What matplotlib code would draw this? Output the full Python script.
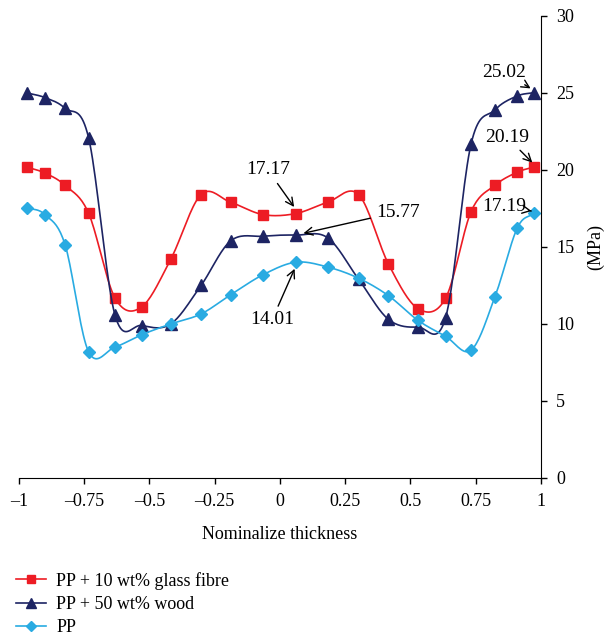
import numpy as np
import matplotlib
matplotlib.use("Agg")
import matplotlib.pyplot as plt

# data
x_pos = [-0.968, -0.9, -0.823, -0.733, -0.632, -0.53, -0.418, -0.302, -0.188, -0.064,
         0.061, 0.183, 0.302, 0.416, 0.529, 0.635, 0.733, 0.824, 0.909, 0.973]
glass = [20.18, 19.8, 19.0, 17.2, 11.7, 11.1, 14.2, 18.4, 17.9, 17.1,
         17.17, 17.9, 18.4, 13.9, 11.0, 11.67, 17.3, 19.0, 19.85, 20.19]
wood = [25.0, 24.7, 24.0, 22.1, 10.6, 9.9, 10.0, 12.5, 15.4, 15.7,
        15.77, 15.6, 12.9, 10.3, 9.8, 10.4, 21.7, 23.9, 24.8, 25.02]
pp = [17.55, 17.1, 15.15, 8.2, 8.5, 9.3, 10.0, 10.65, 11.9, 13.2,
      14.01, 13.7, 12.97, 11.84, 10.24, 9.2, 8.3, 11.75, 16.2, 17.19]
labels = ['PP + 10 wt% glass fibre', 'PP + 50 wt% wood', 'PP']
colors = ['#ED1C24', '#1D2463', '#29ABE2']
markers = ['s', '^', 'D']
msizes = [7.5, 8.5, 6.5]

xticks = [-1, -0.75, -0.5, -0.25, 0, 0.25, 0.5, 0.75, 1]
xticklabels = ['\u20131', '\u20130.75', '\u20130.5', '\u20130.25', '0', '0.25', '0.5', '0.75', '1']


def smooth(x, y, n=20):
    # catmull-rom curve through the points (like excel smoothed lines)
    x = np.asarray(x, float)
    y = np.asarray(y, float)
    px = np.concatenate([[2 * x[0] - x[1]], x, [2 * x[-1] - x[-2]]])
    py = np.concatenate([[2 * y[0] - y[1]], y, [2 * y[-1] - y[-2]]])
    t = np.linspace(0, 1, n)
    xs, ys = [], []
    for i in range(1, len(px) - 2):
        for p, out in ((px, xs), (py, ys)):
            p0, p1, p2, p3 = p[i - 1], p[i], p[i + 1], p[i + 2]
            out.extend(0.5 * (2 * p1 + (-p0 + p2) * t + (2 * p0 - 5 * p1 + 4 * p2 - p3) * t ** 2
                              + (-p0 + 3 * p1 - 3 * p2 + p3) * t ** 3))
    return xs, ys


plt.rcParams['font.family'] = ['Liberation Serif', 'DejaVu Serif']
plt.rcParams['font.size'] = 13

fig = plt.figure(figsize=(6.09, 6.39), dpi=100)
ax = fig.add_axes([0.031, 0.252, 0.857, 0.723])

for ys, lab, c, m, ms in zip([glass, wood, pp], labels, colors, markers, msizes):
    sx, sy = smooth(x_pos, ys)
    ax.plot(sx, sy, color=c, lw=1.2)
    ax.plot(x_pos, ys, ls='none', marker=m, color=c, ms=ms)
    ax.plot([], [], color=c, marker=m, ms=ms * 0.8, lw=1.2, label=lab)

ax.set_xlim(-1, 1)
ax.set_ylim(0, 30)
ax.set_xticks(xticks)
ax.set_xticklabels(xticklabels)
ax.set_yticks(range(0, 31, 5))
ax.spines['left'].set_visible(False)
ax.spines['top'].set_visible(False)
ax.spines['right'].set_position(('data', 1))
ax.yaxis.tick_right()
ax.yaxis.set_label_position('right')
ax.tick_params(axis='both', direction='out', length=4.5, width=1)
ax.tick_params(axis='y', pad=6.5)
ax.tick_params(axis='x', pad=6.5)
ax.set_ylabel('(MPa)', labelpad=9)
ax.set_xlabel('Nominalize thickness', labelpad=11.5)

arw = dict(arrowstyle='->', color='black', lw=1)
fs = 14
ax.annotate('17.17', xy=(0.061, 17.45), xytext=(-0.046, 20.0), ha='center', va='center', fontsize=fs, arrowprops=arw)
ax.annotate('15.77', xy=(0.08, 15.85), xytext=(0.452, 17.27), ha='center', va='center', fontsize=fs, arrowprops=arw)
ax.annotate('14.01', xy=(0.061, 13.75), xytext=(-0.03, 10.26), ha='center', va='center', fontsize=fs, arrowprops=arw)
ax.annotate('25.02', xy=(0.97, 25.2), xytext=(0.86, 26.36), ha='center', va='center', fontsize=fs, arrowprops=arw)
ax.annotate('20.19', xy=(0.975, 20.35), xytext=(0.87, 22.14), ha='center', va='center', fontsize=fs, arrowprops=arw)
ax.annotate('17.19', xy=(0.975, 17.3), xytext=(0.858, 17.66), ha='center', va='center', fontsize=fs, arrowprops=arw)

fig.legend(loc='lower left', bbox_to_anchor=(0.022, 0.0), frameon=False, handlelength=1.67,
           labelspacing=0.35, borderaxespad=0.0, borderpad=0.15, handletextpad=0.55)

fig.savefig('out.png', dpi=100)
